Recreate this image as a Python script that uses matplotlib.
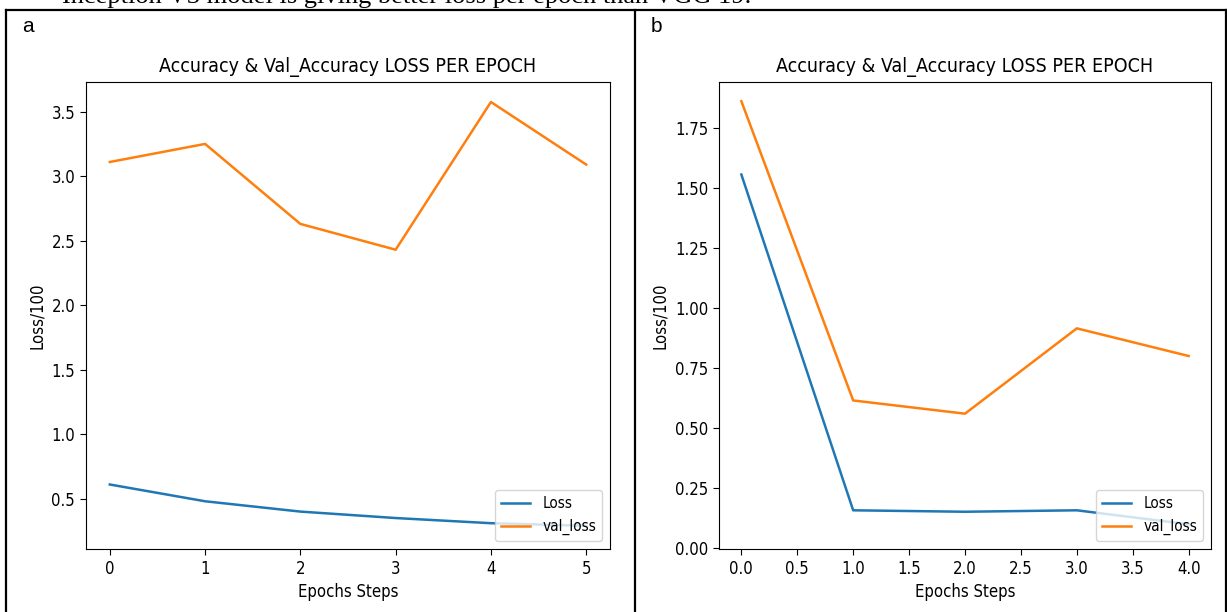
import matplotlib
matplotlib.use("Agg")
import matplotlib.pyplot as plt
from matplotlib.lines import Line2D

# panel a: Inception V3
epochs_a = [0, 1, 2, 3, 4, 5]
loss_a = [0.61, 0.48, 0.40, 0.35, 0.31, 0.29]
val_loss_a = [3.11, 3.25, 2.63, 2.43, 3.575, 3.09]

# panel b: VGG 19
epochs_b = [0.0, 1.0, 2.0, 3.0, 4.0]
loss_b = [1.555, 0.158, 0.152, 0.158, 0.10]
val_loss_b = [1.86, 0.615, 0.56, 0.915, 0.80]

title = "Accuracy & Val_Accuracy LOSS PER EPOCH"
caption = "Inception V3 model is giving better loss per epoch than VGG 19."

plt.rcParams['font.family'] = ['DejaVu Sans']
plt.rcParams['font.stretch'] = 'condensed'
plt.rcParams['xtick.labelsize'] = 12
plt.rcParams['ytick.labelsize'] = 12
plt.rcParams['xtick.major.size'] = 4.3
plt.rcParams['ytick.major.size'] = 4.3

W, H = 1227, 612
fig = plt.figure(figsize=(W / 100, H / 100), dpi=100)


def px(x0, y0, x1, y1):
    # pixel box (top-left origin) -> figure fractions
    return [x0 / W, 1 - y1 / H, (x1 - x0) / W, (y1 - y0) / H]


def panel(rect, x, loss, val_loss, ylim):
    ax = fig.add_axes(rect)
    ax.plot(x, loss, label='Loss', lw=1.8)
    ax.plot(x, val_loss, label='val_loss', lw=1.8)
    ax.set_ylim(*ylim)
    ax.set_title(title, fontsize=14, pad=7)
    ax.set_xlabel('Epochs Steps', fontsize=12)
    ax.set_ylabel('Loss/100', fontsize=12)
    ax.legend(loc='lower right', fontsize=11, handlelength=1.9)
    return ax


axa = panel(px(86, 82, 610, 549), epochs_a, loss_a, val_loss_a, (0.11, 3.73))
axa.set_xticks(epochs_a)
axb = panel(px(719, 82, 1211, 549), epochs_b, loss_b, val_loss_b, (-0.003, 1.94))

# document table frame around the two figures
for (xs, ys) in [((6, 1226), (10, 10)), ((6, 6), (10, 612)),
                 ((635, 635), (10, 612)), ((1226, 1226), (10, 612))]:
    fig.add_artist(Line2D([xs[0] / W, xs[1] / W], [1 - ys[0] / H, 1 - ys[1] / H],
                          transform=fig.transFigure, color='black', lw=1.6))

fig.text(22 / W, 1 - 27 / H, 'a', fontsize=15, family='Liberation Sans', va='center')
fig.text(651 / W, 1 - 27 / H, 'b', fontsize=15, family='Liberation Sans', va='center')
# document sentence above the table, clipped by the top edge as in the source
fig.text(62 / W, 1 - 3 / H, caption, fontsize=19, family='Liberation Serif',
         va='baseline', ha='left')

fig.savefig('out.png', dpi=100)
